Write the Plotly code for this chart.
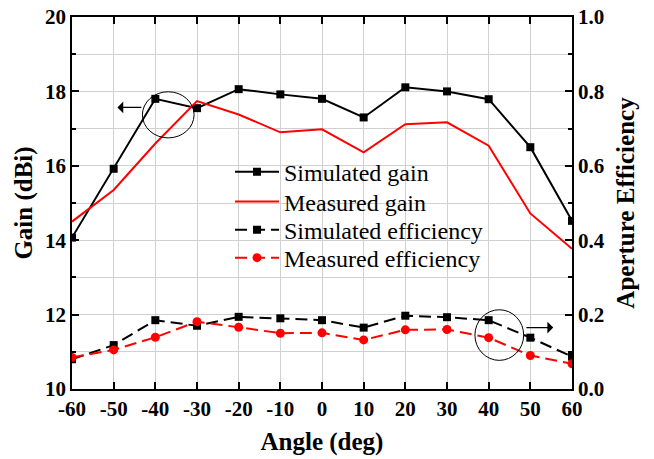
import plotly.graph_objects as go

angles = [-60, -50, -40, -30, -20, -10, 0, 10, 20, 30, 40, 50, 60]
sim_gain = [14.07, 15.92, 17.8, 17.55, 18.06, 17.92, 17.8, 17.3, 18.11, 18.0, 17.79, 16.5, 14.52]
meas_gain = [14.5, 15.35, 16.6, 17.74, 17.38, 16.9, 16.98, 16.36, 17.12, 17.17, 16.54, 14.72, 13.77]
sim_eff = [0.080, 0.118, 0.185, 0.170, 0.194, 0.190, 0.185, 0.165, 0.197, 0.193, 0.185, 0.138, 0.087]
meas_eff = [0.085, 0.105, 0.139, 0.181, 0.166, 0.150, 0.151, 0.132, 0.159, 0.160, 0.138, 0.090, 0.068]
x_ticklabels = [str(a) for a in angles]

FONT = "Liberation Serif"
GRID = "#d0d0d0"

fig = go.Figure()
fig.add_trace(go.Scatter(x=angles, y=sim_gain, name="Simulated gain", mode="lines+markers",
                         legend="legend",
                         line=dict(color="black", width=2),
                         marker=dict(symbol="square", size=8, color="black")))
fig.add_trace(go.Scatter(x=angles, y=meas_gain, name="Measured gain", mode="lines",
                         legend="legend2",
                         line=dict(color="#ff0000", width=2)))
fig.add_trace(go.Scatter(x=angles, y=sim_eff, name="Simulated efficiency", mode="lines+markers",
                         legend="legend3",
                         yaxis="y2", line=dict(color="black", width=2, dash="12px,6px"),
                         marker=dict(symbol="square", size=8, color="black")))
fig.add_trace(go.Scatter(x=angles, y=meas_eff, name="Measured efficiency", mode="lines+markers",
                         legend="legend4",
                         yaxis="y2", line=dict(color="#ff0000", width=2, dash="12px,6px"),
                         marker=dict(symbol="circle", size=9, color="#ff0000")))

tickfont = dict(family=FONT, size=21, color="black", weight="bold")
titlefont = dict(family=FONT, size=25, color="black", weight="bold")
legfont = dict(family=FONT, size=24, color="black")


def leg(yc):
    return dict(x=0.316, y=yc, xanchor="left", yanchor="middle", itemwidth=44,
                bgcolor="rgba(0,0,0,0)", font=legfont)


fig.update_layout(
    width=654, height=459,
    margin=dict(l=72, r=82, t=17, b=70, autoexpand=False),
    plot_bgcolor="white", paper_bgcolor="white",
    font=dict(family=FONT, color="black"),
    showlegend=True,
    legend=leg(0.583),
    legend2=leg(0.503),
    legend3=leg(0.427),
    legend4=leg(0.352),
    xaxis=dict(range=[-60, 60], tickvals=angles, ticktext=x_ticklabels, showgrid=True,
               gridcolor=GRID, gridwidth=1, automargin=False,
               zeroline=False, showline=True, linecolor="black", linewidth=1.5, mirror="ticks",
               ticks="inside", ticklen=7, tickwidth=1.5, tickcolor="black", tickfont=tickfont,
               title=dict(text="Angle (deg)", font=titlefont, standoff=13)),
    yaxis=dict(range=[10, 20], tick0=10, dtick=2, showgrid=True, gridcolor=GRID, gridwidth=1,
               automargin=False,
               zeroline=False, showline=True, linecolor="black", linewidth=1.5, mirror=True,
               ticks="inside", ticklen=7, tickwidth=1.5, tickcolor="black", tickfont=tickfont,
               minor=dict(dtick=1, showgrid=True, gridcolor=GRID, gridwidth=1,
                          ticks="inside", ticklen=4, tickcolor="black"),
               title=dict(text="Gain (dBi)", font=titlefont, standoff=5)),
    yaxis2=dict(range=[0, 1], tick0=0, dtick=0.2, tickformat=".1f", overlaying="y", side="right",
                automargin=False,
                showgrid=False, zeroline=False, showline=True, linecolor="black", linewidth=1.5,
                ticks="inside", ticklen=7, tickwidth=1.5, tickcolor="black", tickfont=tickfont,
                minor=dict(dtick=0.1, ticks="inside", ticklen=4, tickcolor="black"),
                title=dict(text="Aperture Efficiency", font=titlefont, standoff=13)),
    shapes=[
        dict(type="circle", xref="x", yref="y", x0=-43.1, x1=-30.7, y0=16.75, y1=17.99,
             line=dict(color="black", width=1)),
        dict(type="circle", xref="x", yref="y2", x0=36.7, x1=48.4, y0=0.077, y1=0.213,
             line=dict(color="black", width=1)),
    ],
    annotations=[
        dict(x=-49.1, y=17.57, xref="x", yref="y", ax=-43.0, ay=17.57, axref="x", ayref="y",
             text="", showarrow=True, arrowhead=1, arrowsize=1.5, arrowwidth=1.3, arrowcolor="black"),
        dict(x=55.5, y=0.165, xref="x", yref="y2", ax=48.7, ay=0.165, axref="x", ayref="y2",
             text="", showarrow=True, arrowhead=1, arrowsize=1.5, arrowwidth=1.3, arrowcolor="black"),
    ],
)

fig.write_html("out.html")
